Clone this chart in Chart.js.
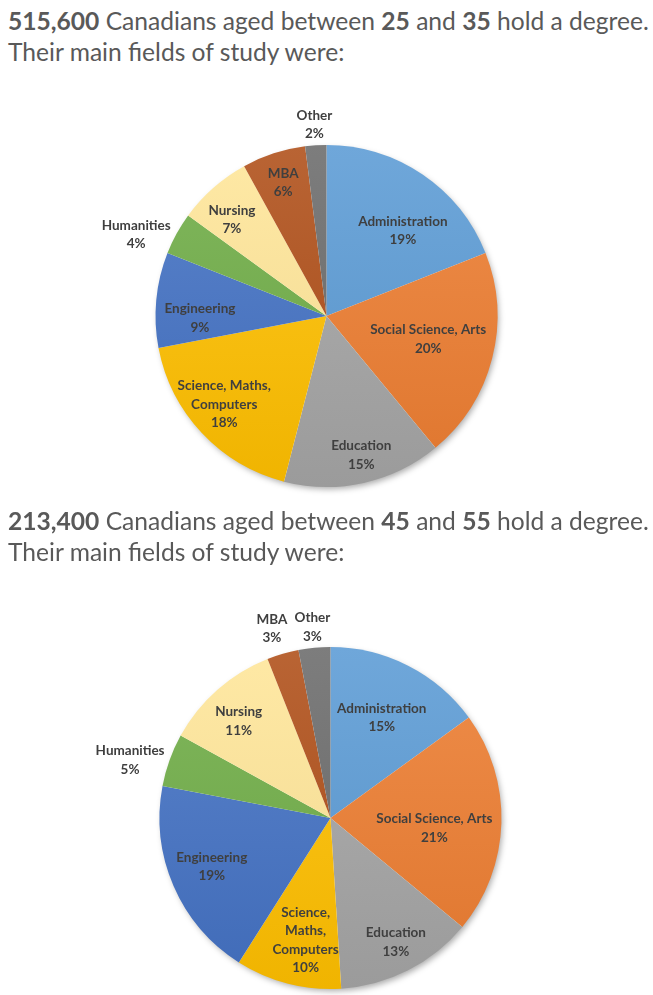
<!DOCTYPE html>
<html>
<head>
<meta charset="utf-8">
<script src="https://cdn.jsdelivr.net/npm/chart.js@4/dist/chart.umd.min.js"></script>
<style>
  html, body { margin: 0; padding: 0; width: 653px; height: 995px; overflow: hidden; background: #fff; }
  .title { position: absolute; left: 8px; font-family: Lato, sans-serif; font-size: 24.6px; line-height: 31px; color: #595959; white-space: nowrap; }
  .title b { font-weight: 700; }
  .pie { position: absolute; width: 653px; height: 440px; }
</style>
</head>
<body>
<div class="title" style="top:5px"><b>515,600</b> Canadians aged between <b>25</b> and <b>35</b> hold a degree.<br>Their main fields of study were:</div>
<div class="pie" style="top:96px; left:0"><canvas id="young"></canvas></div>
<div class="title" style="top:505px"><b>213,400</b> Canadians aged between <b>45</b> and <b>55</b> hold a degree.<br>Their main fields of study were:</div>
<div class="pie" style="top:598px; left:4px"><canvas id="older"></canvas></div>
<script>
// fields of study, clockwise from 12 o'clock
const fields = ['Administration', 'Social Science, Arts', 'Education', 'Science, Maths, Computers',
  'Engineering', 'Humanities', 'Nursing', 'MBA', 'Other'];

// label text as it wraps in each chart
const youngLabelLines = [['Administration'], ['Social Science, Arts'], ['Education'], ['Science, Maths,', 'Computers'],
  ['Engineering'], ['Humanities'], ['Nursing'], ['MBA'], ['Other']];
const olderLabelLines = [['Administration'], ['Social Science, Arts'], ['Education'], ['Science,', 'Maths,', 'Computers'],
  ['Engineering'], ['Humanities'], ['Nursing'], ['MBA'], ['Other']];

// percent of degree holders
const youngShares = [19, 20, 15, 18, 9, 4, 7, 6, 2];
const olderShares = [15, 21, 13, 10, 19, 5, 11, 3, 3];

const sliceColors = ['#5B9BD5', '#ED7D31', '#A5A5A5', '#FFC000', '#4472C4', '#70AD47', '#FFE699', '#B04F18', '#6B6B6B'];

// label placement: distance as a fraction of the radius, and a small turn (degrees) off the slice middle
const youngLabelDist = [0.67, 0.61, 0.84, 0.79, 0.74, 1.21, 0.79, 0.82, 1.12];
const youngLabelTurn = [7.6, -1.7, -1.4, 2.4, -6.3, -5.7, -3, 0, 0];
const olderLabelDist = [0.66, 0.61, 0.82, 0.73, 0.75, 1.22, 0.78, 1.16, 1.12];
const olderLabelTurn = [0, 3.7, -0.8, -2.9, 1.2, -3.7, -2.1, -1, 0];

function shade(hex, amt) {
  const n = parseInt(hex.slice(1), 16);
  let r = n >> 16, g = (n >> 8) & 255, b = n & 255;
  const f = c => Math.round(amt >= 0 ? c + (255 - c) * amt : c * (1 + amt));
  return `rgb(${f(r)},${f(g)},${f(b)})`;
}

function sliceFill(ctx) {
  const chart = ctx.chart;
  const base = sliceColors[ctx.dataIndex];
  const area = chart.chartArea;
  if (!area) return base;
  const cy = (area.top + area.bottom) / 2;
  const r = 171;
  const g = chart.ctx.createLinearGradient(0, cy - r, 0, cy + r);
  g.addColorStop(0, shade(base, 0.12));
  g.addColorStop(1, shade(base, -0.06));
  return g;
}

const pieShadow = {
  id: 'pieShadow',
  beforeDatasetsDraw(chart) {
    const arc = chart.getDatasetMeta(0).data[0];
    if (!arc) return;
    const c = chart.ctx;
    c.save();
    c.shadowColor = 'rgba(0,0,0,0.35)';
    c.shadowBlur = 6;
    c.shadowOffsetX = 2;
    c.shadowOffsetY = 3;
    c.fillStyle = '#ffffff';
    c.beginPath();
    c.arc(arc.x, arc.y, arc.outerRadius - 1, 0, Math.PI * 2);
    c.fill();
    c.restore();
  }
};

const sliceLabels = {
  id: 'sliceLabels',
  afterDatasetsDraw(chart, args, opts) {
    const c = chart.ctx;
    const values = chart.data.datasets[0].data;
    c.save();
    c.font = 'bold 13.5px Lato, sans-serif';
    c.fillStyle = '#3f3f3f';
    c.textAlign = 'center';
    c.textBaseline = 'middle';
    chart.getDatasetMeta(0).data.forEach((arc, i) => {
      const mid = (arc.startAngle + arc.endAngle) / 2 + opts.turn[i] * Math.PI / 180;
      const d = arc.outerRadius * opts.dist[i];
      const x = arc.x + Math.cos(mid) * d;
      const y = arc.y + Math.sin(mid) * d;
      const lines = opts.lines[i].concat([values[i] + '%']);
      const lh = 18.5;
      lines.forEach((t, k) => {
        c.fillText(t, x, y + (k - (lines.length - 1) / 2) * lh);
      });
    });
    c.restore();
  }
};

function makePie(id, shares, lines, dist, turn) {
  return new Chart(document.getElementById(id), {
    type: 'pie',
    data: {
      labels: fields,
      datasets: [{
        data: shares,
        backgroundColor: sliceFill,
        borderWidth: 0
      }]
    },
    options: {
      responsive: true,
      maintainAspectRatio: false,
      animation: false,
      radius: 171,
      layout: { padding: 0 },
      events: [],
      plugins: {
        legend: { display: false },
        tooltip: { enabled: false },
        sliceLabels: { lines: lines, dist: dist, turn: turn }
      }
    },
    plugins: [pieShadow, sliceLabels]
  });
}

makePie('young', youngShares, youngLabelLines, youngLabelDist, youngLabelTurn);
makePie('older', olderShares, olderLabelLines, olderLabelDist, olderLabelTurn);
</script>
</body>
</html>
